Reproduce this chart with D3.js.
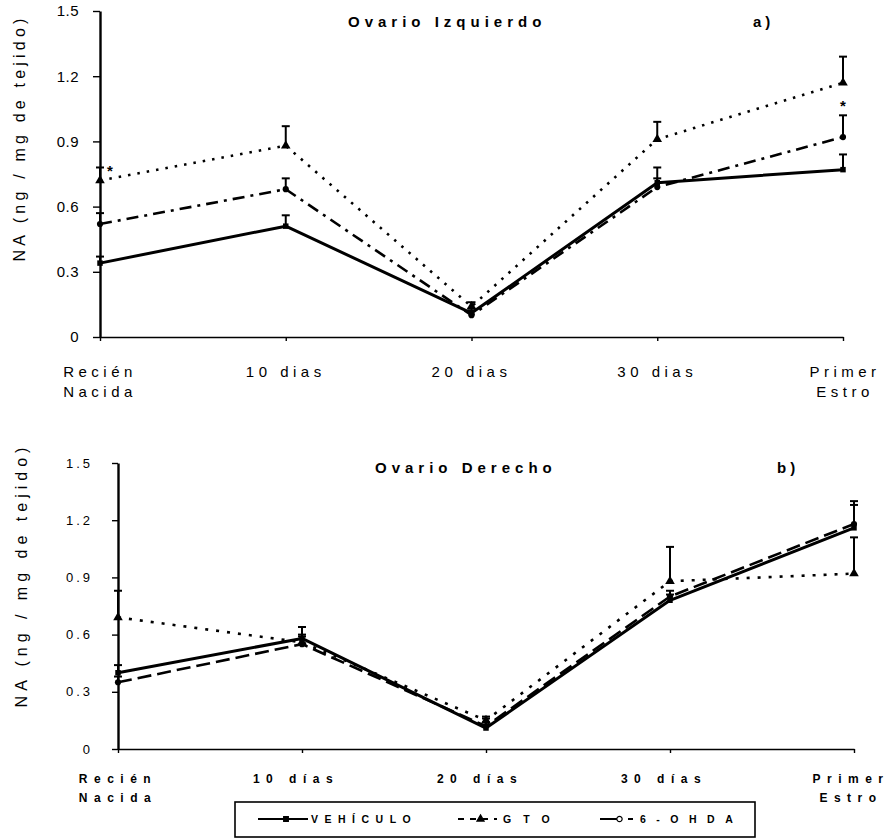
<!DOCTYPE html>
<html>
<head>
<meta charset="utf-8">
<script src="https://cdn.jsdelivr.net/npm/d3@7"></script>
<style>
  body { margin: 0; background: #fff; }
  svg { display: block; }
  text { font-family: "Liberation Sans", Arial, sans-serif; fill: #000; }
</style>
</head>
<body>
<svg id="chart" width="893" height="840"></svg>
<script>
// ---------- DATA ----------
const categoriesTop = ["Recién|Nacida", "10 dias", "20 dias", "30 dias", "Primer|Estro"];
const categoriesBottom = ["Recién|Nacida", "10 días", "20 días", "30 días", "Primer|Estro"];
const yTicks = [0, 0.3, 0.6, 0.9, 1.2, 1.5];
const seriesNames = ["VEHÍCULO", "GTO", "6-OHDA"];

// Ovario Izquierdo (a)
const vehiculoA = [0.34, 0.51, 0.11, 0.71, 0.77];
const vehiculoErrA = [0.03, 0.05, 0.02, 0.07, 0.07];
const gtoA = [0.72, 0.88, 0.14, 0.91, 1.17];
const gtoErrA = [0.06, 0.09, 0.02, 0.08, 0.12];
const ohdaA = [0.52, 0.68, 0.10, 0.69, 0.92];
const ohdaErrA = [0.05, 0.05, 0.02, 0.04, 0.10];
const asterisksA = [{cat: 0, value: 0.78}, {cat: 4, value: 1.08}];

// Ovario Derecho (b)
const vehiculoB = [0.40, 0.58, 0.11, 0.78, 1.16];
const vehiculoErrB = [0.04, 0.06, 0.05, 0.03, 0.12];
const gtoB = [0.69, 0.56, 0.15, 0.88, 0.92];
const gtoErrB = [0.14, 0.03, 0.02, 0.18, 0.19];
const ohdaB = [0.35, 0.55, 0.12, 0.80, 1.18];
const ohdaErrB = [0.03, 0.05, 0.02, 0.03, 0.12];

// ---------- DRAW ----------
const svg = d3.select("#chart");

function drawPanel(cfg) {
  const g = svg.append("g");
  const x = d3.scalePoint().domain(cfg.categories).range([cfg.x0, cfg.x1]);
  const y = d3.scaleLinear().domain([0, 1.5]).range([cfg.y0, cfg.y1]);

  // axes
  const xAxis = g.append("g").attr("transform", `translate(0,${cfg.y0})`)
    .call(d3.axisBottom(x).tickSize(4).tickSizeOuter(0).tickFormat(""));
  xAxis.select(".domain").attr("stroke-width", 1.6);
  xAxis.selectAll(".tick line").attr("stroke-width", 1.4);

  const yAxis = g.append("g").attr("transform", `translate(${cfg.x0},0)`)
    .call(d3.axisLeft(y).tickValues(yTicks).tickSize(cfg.tickLen).tickSizeOuter(0)
      .tickPadding(cfg.tickPad)
      .tickFormat(d => d === 0 ? "0" : d3.format(".1f")(d)));
  yAxis.select(".domain").attr("stroke-width", 2.4);
  yAxis.selectAll(".tick line").attr("stroke-width", 1.4);
  yAxis.selectAll(".tick text")
    .style("font-family", '"Liberation Sans", Arial, sans-serif')
    .style("font-size", cfg.yFont + "px")
    .style("letter-spacing", cfg.yLs + "px")
    .attr("fill", "#000");

  // x category labels (multi-line)
  cfg.categories.forEach((c, ci) => {
    const lines = c.split("|");
    const shift = (cfg.xShift && cfg.xShift[ci]) || 0;
    const t = g.append("text")
      .attr("text-anchor", "middle")
      .style("font-size", cfg.xFont + "px")
      .style("font-weight", cfg.xWeight)
      .style("letter-spacing", cfg.xLs + "px");
    lines.forEach((l, i) => {
      t.append("tspan").attr("x", x(c) + shift).attr("y", cfg.xLabelY + i * cfg.xLineH).text(l);
    });
  });

  // y-axis title
  g.append("text")
    .attr("transform", `translate(${cfg.yTitleX},${cfg.yTitleY}) rotate(-90)`)
    .attr("text-anchor", "middle")
    .style("font-size", "16px")
    .style("letter-spacing", cfg.yTitleLs + "px")
    .text("NA (ng / mg de tejido)");

  // title and panel letter
  g.append("text").attr("x", cfg.titleX).attr("y", cfg.titleY)
    .style("font-size", "15px").style("font-weight", "bold")
    .style("letter-spacing", cfg.titleLs + "px")
    .text(cfg.title);
  g.append("text").attr("x", cfg.letterX).attr("y", cfg.titleY)
    .style("font-size", "15px").style("font-weight", "bold")
    .style("letter-spacing", "4px")
    .text(cfg.letter);

  const series = [
    {vals: cfg.veh, err: cfg.vehErr, dash: null, width: 3, marker: "square"},
    {vals: cfg.gto, err: cfg.gtoErr, dash: cfg.gtoDash, width: 2.6, marker: "triangle"},
    {vals: cfg.ohda, err: cfg.ohdaErr, dash: cfg.ohdaDash, width: 2.6, marker: "circle"}
  ];

  const line = d3.line().x((d, i) => x(cfg.categories[i])).y(d => y(d));

  // error bars
  series.forEach(s => {
    s.vals.forEach((v, i) => {
      const cx = x(cfg.categories[i]);
      const top = y(v + s.err[i]);
      g.append("line").attr("x1", cx).attr("x2", cx).attr("y1", y(v)).attr("y2", top)
        .attr("stroke", "#000").attr("stroke-width", 2);
      g.append("line").attr("x1", cx - 4).attr("x2", cx + 4).attr("y1", top).attr("y2", top)
        .attr("stroke", "#000").attr("stroke-width", 2);
    });
  });

  // lines
  series.forEach(s => {
    g.append("path").datum(s.vals).attr("d", line)
      .attr("fill", "none").attr("stroke", "#000")
      .attr("stroke-width", s.width)
      .attr("stroke-dasharray", s.dash)
      .attr("stroke-linejoin", "round");
  });

  // markers
  const sym = {
    square: d3.symbol().type(d3.symbolSquare).size(30),
    triangle: d3.symbol().type(d3.symbolTriangle).size(40),
    circle: d3.symbol().type(d3.symbolCircle).size(30)
  };
  series.forEach(s => {
    s.vals.forEach((v, i) => {
      g.append("path").attr("d", sym[s.marker]())
        .attr("transform", `translate(${x(cfg.categories[i])},${y(v)})`)
        .attr("fill", "#000");
    });
  });

  // asterisks
  (cfg.asterisks || []).forEach(a => {
    g.append("text").attr("x", x(cfg.categories[a.cat]) + (a.cat === 0 ? 10 : 0))
      .attr("y", y(a.value) + 9)
      .attr("text-anchor", "middle")
      .style("font-size", "15px").style("font-weight", "bold")
      .text("*");
  });
}

drawPanel({
  categories: categoriesTop, x0: 100, x1: 843, y0: 337, y1: 11,
  veh: vehiculoA, vehErr: vehiculoErrA, gto: gtoA, gtoErr: gtoErrA, ohda: ohdaA, ohdaErr: ohdaErrA,
  gtoDash: "2.5,7", ohdaDash: "12,6,3,6",
  tickLen: 7, tickPad: 14, yFont: 15, yLs: 0.5,
  xFont: 15, xWeight: "normal", xLs: 4.5, xLabelY: 377, xLineH: 20,
  xShift: [0, 0, 0, 0, 2],
  yTitleX: 25, yTitleY: 138, yTitleLs: 4.2,
  title: "Ovario Izquierdo", titleX: 348, titleY: 27, titleLs: 5,
  letter: "a)", letterX: 753,
  asterisks: asterisksA
});

drawPanel({
  categories: categoriesBottom, x0: 118, x1: 854, y0: 749, y1: 463,
  veh: vehiculoB, vehErr: vehiculoErrB, gto: gtoB, gtoErr: gtoErrB, ohda: ohdaB, ohdaErr: ohdaErrB,
  gtoDash: "3,8", ohdaDash: "14,6",
  tickLen: 6, tickPad: 19, yFont: 13, yLs: 3,
  xFont: 12, xWeight: "bold", xLs: 6.5, xLabelY: 783, xLineH: 19,
  xShift: [0, -6, -6, -6, -3],
  yTitleX: 27, yTitleY: 575, yTitleLs: 5,
  title: "Ovario Derecho", titleX: 375, titleY: 473, titleLs: 5,
  letter: "b)", letterX: 777,
  asterisks: []
});

// ---------- LEGEND ----------
const lg = svg.append("g");
lg.append("rect").attr("x", 235).attr("y", 802).attr("width", 520).attr("height", 35)
  .attr("fill", "#fff").attr("stroke", "#000").attr("stroke-width", 1.6);
const legendItems = [
  {name: seriesNames[0], x1: 258, x2: 308, tx: 311, dash: null, marker: d3.symbolSquare, fill: "#000", ls: 6.5},
  {name: seriesNames[1], x1: 458, x2: 497, tx: 503, dash: "6,6", marker: d3.symbolTriangle, fill: "#000", ls: 12},
  {name: seriesNames[2], x1: 600, x2: 633, tx: 640, dash: "22,6", marker: d3.symbolCircle, fill: "#fff", ls: 10.5}
];
legendItems.forEach(it => {
  lg.append("line").attr("x1", it.x1).attr("x2", it.x2).attr("y1", 819).attr("y2", 819)
    .attr("stroke", "#000").attr("stroke-width", 2).attr("stroke-dasharray", it.dash);
  lg.append("path").attr("d", d3.symbol().type(it.marker).size(22)())
    .attr("transform", `translate(${(it.x1 + it.x2) / 2 + 3},819)`)
    .attr("fill", it.fill).attr("stroke", "#000").attr("stroke-width", 1.2);
  lg.append("text").attr("x", it.tx).attr("y", 823)
    .style("font-size", "10.5px").style("font-weight", "bold")
    .style("letter-spacing", it.ls + "px")
    .text(it.name);
});
</script>
</body>
</html>
